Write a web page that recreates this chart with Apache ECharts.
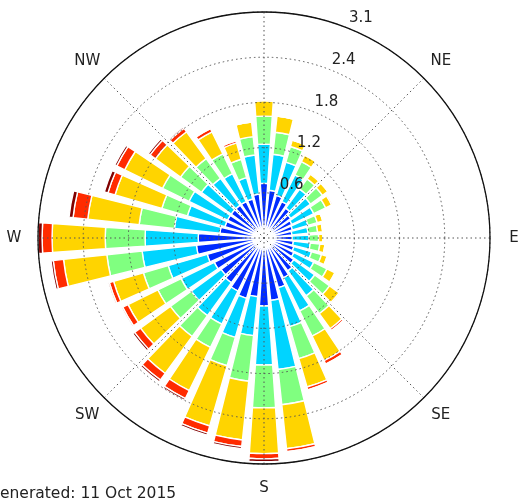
<!DOCTYPE html>
<html>
<head>
<meta charset="utf-8">
<script src="https://cdn.jsdelivr.net/npm/echarts@6/dist/echarts.min.js"></script>
<style>
  html, body { margin: 0; padding: 0; background: #fff; }
  #chart { width: 525px; height: 501px; }
</style>
</head>
<body>
<div id="chart"></div>
<script>
// Wind direction sectors (degrees clockwise from north)
const directions = ['0', '10', '20', '30', '40', '50', '60', '70', '80', '90', '100', '110',
  '120', '130', '140', '150', '160', '170', '180', '190', '200', '210', '220', '230',
  '240', '250', '260', '270', '280', '290', '300', '310', '320', '330', '340', '350'];

// Frequency of each speed class per direction sector (stacked outward)
const bin1 = [0.74, 0.65, 0.60, 0.55, 0.50, 0.45, 0.42, 0.40, 0.38, 0.38, 0.40, 0.42,
  0.45, 0.50, 0.55, 0.60, 0.70, 0.85, 0.92, 0.80, 0.85, 0.80, 0.75, 0.72,
  0.75, 0.80, 0.92, 0.89, 0.60, 0.55, 0.55, 0.55, 0.55, 0.55, 0.55, 0.60];
const bin2 = [0.53, 0.49, 0.47, 0.40, 0.32, 0.33, 0.33, 0.22, 0.22, 0.23, 0.23, 0.25,
  0.30, 0.35, 0.42, 0.50, 0.55, 0.94, 0.80, 0.53, 0.55, 0.50, 0.55, 0.50,
  0.50, 0.55, 0.74, 0.72, 0.62, 0.53, 0.58, 0.50, 0.45, 0.42, 0.30, 0.53];
const bin3 = [0.38, 0.30, 0.22, 0.20, 0.17, 0.20, 0.18, 0.13, 0.13, 0.13, 0.13, 0.14,
  0.20, 0.25, 0.30, 0.38, 0.45, 0.48, 0.58, 0.62, 0.40, 0.35, 0.35, 0.35,
  0.35, 0.35, 0.48, 0.54, 0.48, 0.36, 0.40, 0.35, 0.33, 0.30, 0.26, 0.25];
const bin4 = [0.21, 0.22, 0.09, 0.10, 0.08, 0.09, 0.09, 0.08, 0.07, 0.06, 0.07, 0.08,
  0.12, 0.16, 0.25, 0.37, 0.40, 0.60, 0.62, 0.80, 0.85, 0.65, 0.62, 0.50,
  0.45, 0.42, 0.59, 0.72, 0.70, 0.66, 0.57, 0.42, 0.45, 0.33, 0.23, 0.20];
const bin5 = [0, 0, 0, 0.02, 0.02, 0, 0.02, 0, 0, 0, 0, 0.01,
  0.01, 0.02, 0.03, 0.05, 0.04, 0.04, 0.07, 0.09, 0.10, 0.12, 0.11, 0.10,
  0.08, 0.06, 0.14, 0.135, 0.20, 0.10, 0.12, 0.09, 0.06, 0.05, 0.03, 0];
const bin6 = [0, 0, 0, 0, 0, 0, 0, 0, 0, 0, 0, 0,
  0, 0, 0, 0, 0, 0, 0.04, 0.03, 0.03, 0.03, 0.03, 0.03,
  0.02, 0.02, 0.03, 0.06, 0.055, 0.05, 0.03, 0.03, 0.02, 0, 0, 0];

const binColors = ['#002bff', '#00d4ff', '#80ff80', '#ffd400', '#ff2b00', '#800000'];

// Compass labels every 45 degrees (north sits above the drawing area)
const compassAngles = [45, 90, 135, 180, 225, 270, 315];
const compassLabels = ['NE', 'E', 'SE', 'S', 'SW', 'W', 'NW'];

// Radial rings and their labels
const ringValues = [0.612, 1.224, 1.836, 2.448, 3.06];
const ringLabels = ['0.6', '1.2', '1.8', '2.4', '3.1'];
const ringLabelAngle = 22.5;

const rMax = 3.06;
const ringStep = 0.612;
const CENTER = [264, 238];
const RADIUS = 226;
const FONT = 'DejaVu Sans';

const chart = echarts.init(document.getElementById('chart'), null, { renderer: 'canvas' });

const bins = [bin1, bin2, bin3, bin4, bin5, bin6];
const barSeries = bins.map((vals, i) => ({
  type: 'bar',
  coordinateSystem: 'polar',
  polarIndex: 0,
  stack: 'speed',
  barCategoryGap: '22%',
  data: vals,
  z: 2,
  itemStyle: { color: binColors[i], borderColor: '#ffffff', borderWidth: 1.4 },
  silent: true
}));

const gridLine = { color: '#555', width: 1, type: [1.5, 3] };

const option = {
  animation: false,
  backgroundColor: '#ffffff',
  title: {
    text: 'Generated: 11 Oct 2015',
    left: -12,
    top: 486,
    padding: 0,
    textStyle: { fontFamily: FONT, fontSize: 15.5, fontWeight: 'normal', color: '#222' }
  },
  polar: [
    { center: CENTER, radius: RADIUS },
    { center: CENTER, radius: RADIUS }
  ],
  angleAxis: [
    {
      polarIndex: 0,
      type: 'category',
      data: directions,
      startAngle: 95,
      clockwise: true,
      boundaryGap: true,
      axisLine: { show: false },
      axisTick: { show: false },
      axisLabel: { show: false },
      splitLine: { show: false }
    },
    {
      polarIndex: 1,
      type: 'value',
      min: 0,
      max: 360,
      interval: 45,
      startAngle: 90,
      clockwise: true,
      z: 5,
      axisLine: { show: true, lineStyle: { color: '#111', width: 1.3 } },
      axisTick: { show: false },
      splitLine: { show: true, lineStyle: gridLine },
      axisLabel: {
        show: true,
        margin: 12,
        fontFamily: FONT,
        fontSize: 15,
        color: '#222',
        formatter: function (v) {
          const k = compassAngles.indexOf(v);
          if (k < 0) return '';
          const diagonal = v % 90 !== 0;
          return '{' + (diagonal ? 'd' : 'c') + '|' + compassLabels[k] + '}';
        },
        rich: {
          c: { width: 24, height: 24, lineHeight: 24, align: 'center', fontFamily: FONT, fontSize: 15, color: '#222' },
          d: { width: 17, height: 17, lineHeight: 17, align: 'center', fontFamily: FONT, fontSize: 15, color: '#222' }
        }
      }
    }
  ],
  radiusAxis: [
    {
      polarIndex: 0,
      type: 'value',
      min: 0,
      max: rMax,
      axisLine: { show: false },
      axisTick: { show: false },
      axisLabel: { show: false },
      splitLine: { show: false }
    },
    {
      polarIndex: 1,
      type: 'value',
      min: 0,
      max: rMax,
      interval: ringStep,
      z: 5,
      axisLine: { show: false },
      axisTick: { show: false },
      axisLabel: { show: false },
      splitLine: { show: true, lineStyle: gridLine }
    }
  ],
  series: barSeries.concat([
    {
      type: 'scatter',
      coordinateSystem: 'polar',
      polarIndex: 1,
      symbolSize: 1,
      clip: false,
      itemStyle: { color: 'rgba(0,0,0,0)', opacity: 1 },
      z: 6,
      silent: true,
      data: ringValues.map(r => [r, ringLabelAngle]),
      label: {
        show: true,
        position: [0, 0],
        align: 'left',
        verticalAlign: 'bottom',
        offset: [-1, -3],
        fontFamily: FONT,
        fontSize: 15,
        color: '#222',
        opacity: 1,
        formatter: p => ringLabels[p.dataIndex]
      }
    }
  ])
};

chart.setOption(option);
</script>
</body>
</html>
